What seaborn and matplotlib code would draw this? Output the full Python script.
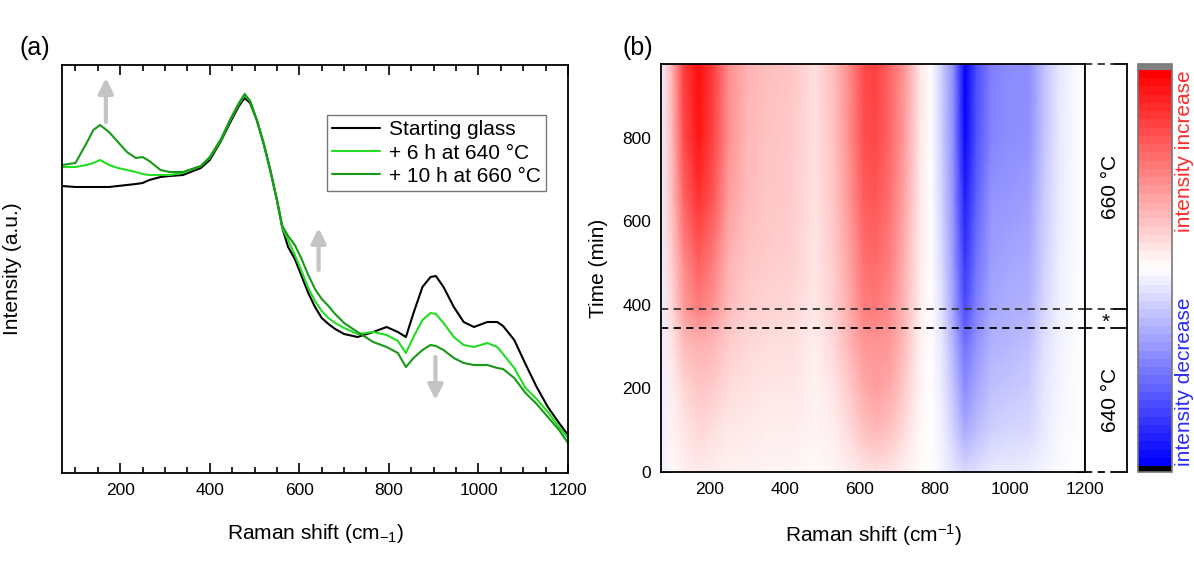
import numpy as np
import pandas as pd
import matplotlib
matplotlib.use("Agg")
import matplotlib.pyplot as plt
import seaborn as sns
from matplotlib.ticker import MultipleLocator, NullLocator
from matplotlib.colors import Normalize
from matplotlib.cm import ScalarMappable

# ---------------- data: panel (a) Raman spectra ----------------
raman_shift = [70, 100, 125, 140, 155, 175, 195, 215, 235, 250,
               265, 290, 310, 340, 380, 400, 425, 445, 465, 478,
               490, 505, 520, 535, 550, 562, 575, 590, 605, 620,
               635, 650, 665, 680, 700, 730, 765, 795, 820, 838,
               855, 875, 893, 905, 922, 945, 967, 990, 1020, 1042,
               1055, 1080, 1105, 1130, 1155, 1180, 1200]
starting_glass = [287, 286, 286, 286, 286, 286, 287, 288, 289, 290,
                  293, 296, 297, 298, 305, 313, 332, 350, 367, 375,
                  370, 353, 330, 303, 273, 245, 226, 214, 197, 180,
                  166, 155, 149, 144, 139, 136, 141, 146, 141, 136,
                  160, 186, 196, 197, 186, 166, 151, 146, 151, 151,
                  147, 133, 109, 86, 66, 50, 38]
after_6h_640 = [306, 306, 308, 310, 313, 308, 305, 303, 301, 299,
                298, 298, 298, 300, 307, 315, 333, 352, 369, 378,
                372, 353, 330, 303, 273, 245, 233, 218, 202, 185,
                172, 162, 155, 150, 145, 139, 141, 138, 132, 120,
                136, 153, 160, 159, 150, 136, 128, 126, 130, 126,
                119, 105, 85, 74, 61, 46, 35]
after_10h_660 = [308, 310, 330, 343, 348, 341, 331, 321, 315, 316,
                 312, 303, 301, 301, 307, 316, 334, 353, 370, 379,
                 372, 353, 330, 303, 273, 247, 237, 228, 214, 198,
                 184, 174, 167, 159, 150, 141, 131, 126, 120, 106,
                 115, 123, 128, 127, 123, 115, 110, 108, 108, 105,
                 104, 95, 80, 69, 56, 43, 30]
series_labels = ["Starting glass", "+ 6 h at 640 °C", "+ 10 h at 660 °C"]
series_colors = ["#000000", "#22dd22", "#179a17"]

# arrows in panel (a): (shift, from, to)
arrow_shift = [168, 643, 904]
arrow_from = [351, 203, 116]
arrow_to = [395, 245, 73]

# ---------------- data: panel (b) intensity change map ----------------
map_shift = [70, 100, 130, 170, 210, 250, 300, 350, 420, 480,
             530, 570, 610, 640, 680, 720, 760, 790, 820, 850,
             880, 910, 950, 1000, 1050, 1090, 1130, 1170, 1200]
map_time = [0, 100, 200, 300, 345, 390, 500, 650, 800, 977]
intensity_change = [
    [-0.05, 0.03, 0.06, 0.08, 0.07, 0.05, 0.05, 0.04, 0.04, 0.02,
     0.04, 0.07, 0.10, 0.12, 0.10, 0.06, 0.01, 0.0, -0.04, -0.10,
     -0.15, -0.12, -0.08, -0.08, -0.07, -0.04, -0.02, 0.0, 0.0],
    [-0.06, 0.05, 0.10, 0.15, 0.12, 0.09, 0.08, 0.07, 0.07, 0.04,
     0.07, 0.14, 0.24, 0.28, 0.24, 0.14, 0.03, 0.0, -0.06, -0.18,
     -0.33, -0.26, -0.18, -0.16, -0.15, -0.08, -0.03, -0.01, 0.0],
    [-0.06, 0.07, 0.15, 0.22, 0.20, 0.14, 0.11, 0.10, 0.10, 0.05,
     0.10, 0.20, 0.33, 0.38, 0.33, 0.20, 0.04, 0.0, -0.08, -0.24,
     -0.45, -0.35, -0.25, -0.22, -0.20, -0.10, -0.04, -0.01, 0.0],
    [-0.06, 0.10, 0.25, 0.30, 0.28, 0.20, 0.15, 0.13, 0.12, 0.07,
     0.15, 0.28, 0.40, 0.42, 0.40, 0.25, 0.05, 0.0, -0.10, -0.30,
     -0.55, -0.42, -0.30, -0.28, -0.25, -0.12, -0.05, -0.02, 0.0],
    [-0.06, 0.12, 0.30, 0.38, 0.33, 0.22, 0.17, 0.15, 0.14, 0.08,
     0.16, 0.30, 0.43, 0.46, 0.42, 0.27, 0.06, 0.0, -0.11, -0.33,
     -0.62, -0.46, -0.32, -0.30, -0.28, -0.14, -0.05, -0.02, 0.0],
    [-0.06, 0.15, 0.38, 0.50, 0.42, 0.26, 0.19, 0.17, 0.15, 0.09,
     0.18, 0.32, 0.50, 0.52, 0.45, 0.28, 0.07, 0.0, -0.13, -0.37,
     -0.70, -0.50, -0.35, -0.32, -0.30, -0.16, -0.06, -0.02, 0.0],
    [-0.06, 0.20, 0.45, 0.62, 0.50, 0.30, 0.22, 0.20, 0.18, 0.10,
     0.20, 0.35, 0.55, 0.58, 0.50, 0.30, 0.08, 0.0, -0.15, -0.40,
     -0.78, -0.55, -0.38, -0.35, -0.33, -0.18, -0.07, -0.02, 0.0],
    [-0.06, 0.25, 0.60, 0.80, 0.65, 0.38, 0.26, 0.22, 0.20, 0.11,
     0.22, 0.40, 0.63, 0.66, 0.56, 0.35, 0.09, 0.0, -0.18, -0.43,
     -0.88, -0.62, -0.42, -0.40, -0.38, -0.21, -0.08, -0.03, 0.0],
    [-0.05, 0.28, 0.70, 0.92, 0.72, 0.43, 0.28, 0.24, 0.21, 0.12,
     0.24, 0.43, 0.68, 0.72, 0.60, 0.38, 0.10, 0.0, -0.20, -0.45,
     -0.97, -0.68, -0.48, -0.44, -0.43, -0.24, -0.09, -0.03, 0.0],
    [-0.05, 0.30, 0.75, 0.95, 0.75, 0.45, 0.30, 0.25, 0.22, 0.12,
     0.25, 0.45, 0.70, 0.75, 0.60, 0.40, 0.10, 0.0, -0.20, -0.45,
     -1.00, -0.70, -0.50, -0.45, -0.45, -0.25, -0.10, -0.03, 0.0],
]
stage_bounds = [345, 390]
stage_labels = ["640 °C", "*", "660 °C"]

# ---------------- style ----------------
sns.set_theme(style="ticks")
plt.rcParams["font.family"] = ["Liberation Sans", "DejaVu Sans"]
plt.rcParams["mathtext.fontset"] = "custom"
plt.rcParams["mathtext.rm"] = "Liberation Sans"
plt.rcParams["mathtext.it"] = "Liberation Sans:italic"
plt.rcParams["axes.linewidth"] = 1.3
plt.rcParams["axes.edgecolor"] = "black"
plt.rcParams["text.color"] = "black"
plt.rcParams["axes.labelcolor"] = "black"
plt.rcParams["xtick.color"] = "black"
plt.rcParams["ytick.color"] = "black"
plt.rcParams["xtick.labelcolor"] = "black"
plt.rcParams["ytick.labelcolor"] = "black"

W, H = 1194, 561
fig = plt.figure(figsize=(W / 100, H / 100), dpi=100)
fig.patch.set_facecolor("white")

ax1 = fig.add_axes([62 / W, (H - 473) / H, 506 / W, 408 / H])
ax2 = fig.add_axes([661 / W, (H - 472) / H, 424 / W, 408 / H])
ax3 = fig.add_axes([1085 / W, (H - 472) / H, 42 / W, 408 / H])
cax = fig.add_axes([1138 / W, (H - 472) / H, 34 / W, 408 / H])

# ---------------- panel (a) ----------------
frames = []
for lab, vals in zip(series_labels, [starting_glass, after_6h_640, after_10h_660]):
    frames.append(pd.DataFrame({"shift": raman_shift, "intensity": vals, "sample": lab}))
df = pd.concat(frames, ignore_index=True)
sns.lineplot(data=df, x="shift", y="intensity", hue="sample",
             hue_order=series_labels, palette=series_colors,
             estimator=None, sort=False, lw=1.5, ax=ax1, legend=False)

for xs, y0, y1 in zip(arrow_shift, arrow_from, arrow_to):
    ax1.annotate("", xy=(xs, y1), xytext=(xs, y0),
                 arrowprops=dict(arrowstyle="-|>", color="#c4c4c4", lw=3,
                                 mutation_scale=22, shrinkA=0, shrinkB=0))

ax1.set_xlim(70, 1200)
ax1.set_ylim(0, 408)
ax1.xaxis.set_major_locator(MultipleLocator(200))
ax1.xaxis.set_minor_locator(MultipleLocator(50))
ax1.yaxis.set_major_locator(NullLocator())
ax1.tick_params(axis="x", which="both", direction="in", top=True, bottom=True,
                labelsize=12.5, pad=7, width=1.2, color="black")
ax1.tick_params(axis="x", which="major", length=7)
ax1.tick_params(axis="x", which="minor", length=4)
ax1.set_xlabel("Raman shift (cm$_{\\mathregular{-1}}$)", fontsize=15)
ax1.set_ylabel("Intensity (a.u.)", fontsize=15)
ax1.xaxis.set_label_coords(0.5, -0.12)
ax1.yaxis.set_label_coords(-0.079, 0.5)
for s in ax1.spines.values():
    s.set_visible(True)
    s.set_linewidth(1.3)

leg = ax1.legend(ax1.get_lines()[:3], series_labels, loc="upper left",
                 bbox_to_anchor=(0.524, 0.877), borderaxespad=0,
                 fontsize=15, frameon=True, fancybox=False, shadow=False,
                 handlelength=2.3, handletextpad=0.4, labelspacing=0.2,
                 borderpad=0.25)
leg.get_frame().set_edgecolor("#555555")
leg.get_frame().set_linewidth(1.0)
for ln in leg.get_lines():
    ln.set_linewidth(1.5)

# ---------------- panel (b) ----------------
cmap = plt.get_cmap("bwr", 48).with_extremes(over="#808080", under="#000000")
norm = Normalize(vmin=-1, vmax=1)
X, Y = np.meshgrid(map_shift, map_time)
ax2.pcolormesh(X, Y, np.array(intensity_change), shading="gouraud",
               cmap=plt.get_cmap("bwr"), norm=norm, rasterized=True)
ax2.set_xlim(70, 1200)
ax2.set_ylim(0, 977)
ax2.xaxis.set_major_locator(MultipleLocator(200))
ax2.xaxis.set_minor_locator(MultipleLocator(50))
ax2.yaxis.set_major_locator(MultipleLocator(200))
ax2.yaxis.set_minor_locator(MultipleLocator(50))
ax2.tick_params(which="both", direction="in", top=True, right=True,
                bottom=True, left=True, labelsize=12.5, width=1.2, color="black")
ax2.tick_params(which="major", length=7, pad=7)
ax2.tick_params(which="minor", length=4)
ax2.set_xlabel("Raman shift (cm$^{\\mathregular{-1}}$)", fontsize=15)
ax2.set_ylabel("Time (min)", fontsize=15)
ax2.xaxis.set_label_coords(0.5, -0.122)
ax2.yaxis.set_label_coords(-0.125, 0.5)
ax2.axhline(stage_bounds[1], ls=(0, (4, 3)), color="#333333", lw=1.3)
ax2.axhline(stage_bounds[0], ls=(0, (4, 3)), color="#000000", lw=1.3)
for s in ax2.spines.values():
    s.set_visible(True)
    s.set_linewidth(1.3)

# side panel with stage labels
ax3.set_xlim(0, 1)
ax3.set_ylim(0, 977)
ax3.set_xticks([])
ax3.set_yticks([])
ax3.set_facecolor("white")
ax3.spines["top"].set_visible(False)
ax3.spines["bottom"].set_visible(False)
ax3.spines["right"].set_linewidth(1.3)
ax3.spines["left"].set_linewidth(1.3)
for yy in [0, stage_bounds[0], stage_bounds[1], 977]:
    col = "#333333" if yy in (stage_bounds[1], 977) else "#000000"
    ax3.plot([0, 0.7], [yy, yy], ls=(0, (4, 3)), color=col, lw=1.3, clip_on=False)
    ax3.plot([0.7, 1], [yy, yy], ls="-", color="black", lw=1.3, clip_on=False)
ax3.text(0.6, (0 + stage_bounds[0]) / 2, stage_labels[0], rotation=90,
         ha="center", va="center", fontsize=15)
ax3.text(0.5, (stage_bounds[0] + stage_bounds[1]) / 2 - 8, stage_labels[1],
         ha="center", va="center", fontsize=15)
ax3.text(0.6, (stage_bounds[1] + 977) / 2, stage_labels[2], rotation=90,
         ha="center", va="center", fontsize=15)

# colorbar
cb = fig.colorbar(ScalarMappable(norm=norm, cmap=cmap), cax=cax,
                  extend="both", extendrect=True, extendfrac=0.015)
cb.set_ticks([])
cb.ax.tick_params(length=0)
cb.outline.set_edgecolor("#777777")
cb.outline.set_linewidth(1.2)
fig.text(1184 / W, (H - 151) / H, "intensity increase", rotation=90,
         ha="center", va="center", fontsize=15, color="#ff2a2a")
fig.text(1184 / W, (H - 382) / H, "intensity decrease", rotation=90,
         ha="center", va="center", fontsize=15, color="#2a2aff")

# panel letters
fig.text(35 / W, (H - 48) / H, "(a)", fontsize=18, ha="center", va="center")
fig.text(638 / W, (H - 48) / H, "(b)", fontsize=18, ha="center", va="center")

fig.savefig("out.png", dpi=100, facecolor="white")
